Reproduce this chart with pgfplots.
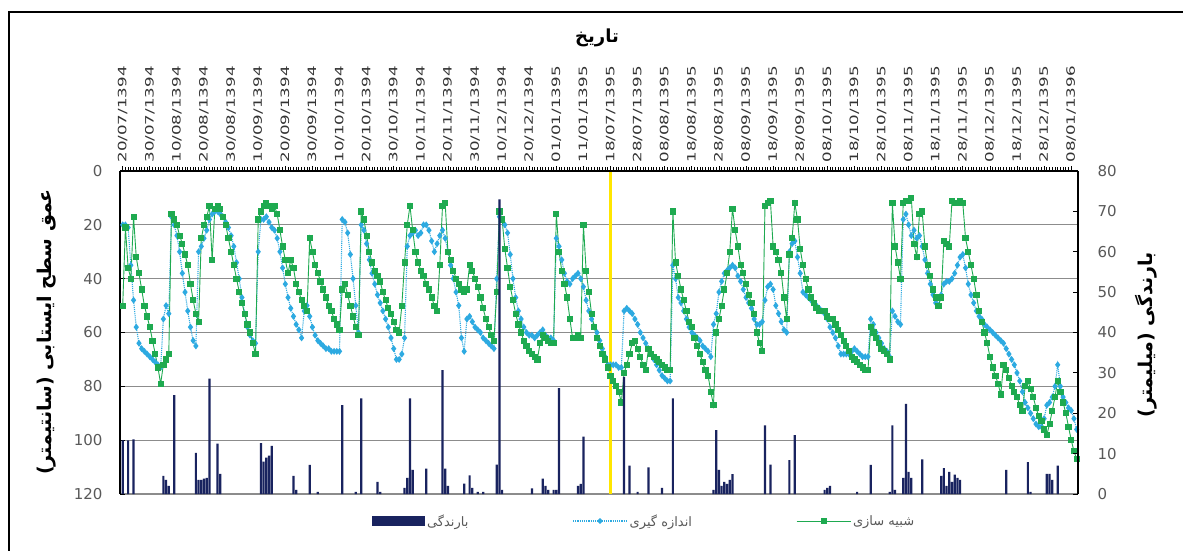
\documentclass[border=0pt]{standalone}
\usepackage{fontspec}
\usepackage{pgfplots}
\pgfplotsset{compat=1.18}
\usepackage{pgfplotstable}
\setmainfont{DejaVu Sans}
\newfontfamily\fa[Script=Arabic]{DejaVu Sans}
\newfontfamily\datefont[FakeStretch=1.45]{DejaVu Sans}
\TeXXeTstate=1
\definecolor{simc}{RGB}{30,170,80}
\definecolor{measc}{RGB}{45,170,225}
\definecolor{rainc}{RGB}{25,35,95}
\definecolor{gridc}{RGB}{140,140,140}
\definecolor{tickc}{RGB}{89,89,89}
\definecolor{yelc}{RGB}{255,230,0}

% water table depth (cm): day index, simulated, measured
\pgfplotstableread{
i sim meas
0 50 20
1 21 20
2 36 21
3 40 35
4 17 48
5 32 58
6 38 64
7 44 66
8 50 67
9 54 68
10 58 69
11 63 70
12 68 71
13 73 72
14 79 73
15 72 55
16 70 50
17 68 53
18 16 17
19 18 20
20 20 24
21 24 30
22 27 38
23 31 45
24 35 52
25 42 58
26 48 63
27 53 65
28 56 30
29 25 28
30 20 25
31 17 22
32 13 18
33 33 16
34 14 15
35 13 15
36 14 16
37 17 17
38 20 19
39 25 21
40 30 24
41 35 28
42 40 34
43 45 40
44 49 47
45 53 53
46 57 58
47 60 61
48 64 63
49 68 64
50 18 30
51 15 18
52 13 18
53 12 17
54 13 19
55 14 21
56 13 22
57 16 25
58 22 30
59 28 36
60 33 42
61 38 47
62 33 51
63 36 54
64 42 57
65 45 59
66 48 62
67 50 52
68 52 50
69 25 54
70 30 58
71 35 61
72 38 63
73 41 64
74 44 65
75 47 66
76 50 66
77 52 67
78 55 67
79 57 67
80 59 67
81 44 18
82 42 19
83 46 23
84 50 31
85 54 40
86 58 50
87 61 60
88 15 20
89 18 22
90 24 27
91 30 33
92 34 38
93 37 42
94 39 46
95 41 49
96 45 52
97 48 55
98 51 58
99 53 62
100 56 66
101 59 70
102 60 70
103 50 68
104 34 62
105 20 28
106 13 24
107 22 23
108 30 22
109 34 24
110 37 23
111 39 20
112 42 20
113 44 22
114 47 26
115 50 30
116 52 27
117 35 24
118 13 22
119 12 25
120 30 30
121 33 35
122 37 40
123 40 45
124 42 50
125 44 62
126 45 67
127 44 55
128 35 54
129 37 56
130 40 58
131 43 59
132 47 60
133 51 62
134 55 63
135 58 64
136 61 65
137 63 66
138 45 40
139 15 17
140 18 18
141 29 20
142 36 23
143 43 31
144 48 40
145 53 47
146 57 52
147 60 55
148 63 58
149 65 60
150 67 61
151 68 61
152 69 62
153 70 61
154 64 60
155 61 59
156 62 61
157 63 62
158 64 62
159 64 63
160 16 25
161 30 28
162 37 33
163 42 38
164 47 41
165 55 42
166 62 40
167 62 39
168 61 38
169 62 40
170 20 43
171 37 48
172 45 52
173 53 55
174 58 58
175 62 60
176 65 63
177 68 66
178 70 69
179 73 72
180 76 72
181 78 72
182 80 72
183 82 73
184 86 73
185 75 52
186 72 51
187 68 52
188 64 53
189 63 55
190 66 57
191 69 60
192 72 62
193 74 64
194 66 66
195 68 68
196 69 70
197 70 72
198 71 74
199 72 76
200 73 77
201 74 78
202 74 78
203 15 35
204 34 40
205 39 47
206 44 49
207 48 52
208 52 55
209 56 58
210 58 60
211 62 61
212 65 62
213 68 63
214 71 65
215 74 66
216 76 67
217 82 69
218 87 57
219 60 53
220 55 45
221 50 41
222 44 38
223 38 37
224 30 36
225 14 35
226 22 36
227 28 39
228 35 41
229 38 44
230 42 47
231 46 49
232 49 51
233 53 55
234 60 57
235 64 57
236 67 56
237 13 48
238 12 43
239 11 42
240 28 44
241 30 50
242 33 53
243 38 56
244 47 59
245 55 60
246 31 30
247 25 27
248 12 26
249 18 32
250 29 38
251 35 45
252 40 46
253 44 47
254 47 48
255 49 49
256 51 50
257 52 51
258 52 52
259 52 53
260 54 55
261 55 58
262 55 60
263 57 62
264 59 65
265 61 68
266 63 68
267 65 68
268 67 68
269 69 67
270 70 66
271 71 67
272 72 68
273 73 69
274 74 69
275 74 69
276 58 55
277 60 57
278 62 60
279 64 62
280 66 64
281 67 66
282 68 67
283 70 69
284 12 52
285 28 54
286 34 56
287 40 57
288 12 18
289 11 16
290 11 20
291 10 24
292 27 22
293 32 25
294 16 24
295 15 28
296 28 33
297 35 38
298 39 42
299 44 46
300 47 49
301 50 50
302 47 46
303 26 42
304 27 41
305 28 41
306 11 40
307 12 38
308 12 35
309 11 32
310 12 31
311 25 36
312 30 42
313 35 46
314 40 49
315 46 52
316 52 54
317 56 55
318 60 57
319 64 58
320 69 59
321 73 60
322 76 61
323 79 62
324 83 63
325 72 64
326 74 66
327 77 68
328 80 70
329 82 72
330 84 75
331 87 78
332 89 82
333 80 86
334 78 88
335 81 90
336 84 92
337 88 94
338 91 95
339 93 95
340 96 92
341 98 87
342 94 86
343 89 84
344 84 80
345 78 72
346 82 80
347 86 84
348 90 86
349 95 88
350 100 89
351 104 92
352 107 96
}\lvl

% rainfall (mm) on rainy days
\pgfplotstableread{
i r
0 13.3
2 13.3
4 13.5
15 4.5
16 3.5
17 2
19 24.5
27 10.2
28 3.5
29 3.5
30 3.8
31 4
32 28.6
35 12.5
36 5
51 12.6
52 8
53 9
54 9.5
55 11.9
63 4.5
64 1
69 7.2
72 0.5
81 22
86 0.5
88 23.7
94 3
95 0.5
104 1.5
105 4
106 23.7
107 6
112 6.3
118 30.7
119 6.3
120 2
126 2.6
128 4.6
129 1.5
131 0.5
133 0.5
138 7.3
139 73
140 1
151 1.4
155 3.8
156 2
157 1
159 1
160 1
161 26.2
168 2
169 2.5
170 14.2
185 29
187 7
190 0.5
194 6.6
199 1.5
203 23.7
218 1
219 15.8
220 6
221 2
222 3
223 2.5
224 3.5
225 4.9
237 17
239 7.3
246 8.4
248 14.6
259 1
260 1.5
261 2
271 0.5
276 7.2
283 0.5
284 17
285 1
288 4
289 22.3
290 5.5
291 4
295 8.6
302 4.5
303 6.4
304 2
305 5.5
306 3
307 4.8
308 4
309 3.5
326 6
334 7.9
335 0.5
341 5
342 5
343 3.5
345 7
}\rain

\pgfplotsset{
  meas/.style={color=measc, densely dotted, line width=1.1pt, mark=diamond*,
    mark size=2.6pt, mark options={solid, fill=measc, draw=measc}},
  sim/.style={color=simc, line width=0.9pt, mark=square*, mark size=2.6pt,
    mark options={fill=simc, draw=simc}},
}

\begin{document}
\begin{tikzpicture}
\useasboundingbox (0,0) rectangle (1183pt,550pt);
\fill[white] (0,0) rectangle (1183pt,550pt);
\draw[line width=2.5pt] (9pt,-2pt) -- (9pt,538pt) -- (1186pt,538pt);

% depth axis (left, reversed)
\begin{axis}[
  at={(120pt,56pt)}, anchor=south west, scale only axis,
  width=958pt, height=323pt,
  xmin=-1, xmax=352.5, ymin=0, ymax=120, y dir=reverse,
  axis x line=none, axis y line*=left,
  axis line style={-, black, line width=1.5pt},
  xtick=\empty, ytick={0,20,...,120}, ytick align=inside,
  major tick length=5pt, tick style={black, line width=1pt},
  ymajorgrids, grid style={gridc, line width=1.2pt},
  /pgf/number format/assume math mode=true,
  yticklabel style={font=\fontsize{15}{16}\selectfont, text=tickc, xshift=-14pt},
]
\addplot[meas] table[x=i, y=meas] {\lvl};
\addplot[sim] table[x=i, y=sim] {\lvl};
\addplot[yelc, line width=3.5pt] coordinates {(180,0) (180,120)};
\end{axis}

% rainfall axis (right) with the date axis on top
\begin{axis}[
  at={(120pt,56pt)}, anchor=south west, scale only axis,
  width=958pt, height=323pt,
  xmin=-1, xmax=352.5, ymin=0, ymax=80,
  axis x line*=top, axis y line*=right,
  axis line style={-, black, line width=1.5pt},
  xtick={0,10,...,350}, minor x tick num=9, xtick align=outside,
  major tick length=5pt, minor tick length=4pt,
  tick style={black, line width=0.8pt},
  xticklabels={20/07/1394,30/07/1394,10/08/1394,20/08/1394,30/08/1394,
    10/09/1394,20/09/1394,30/09/1394,10/10/1394,20/10/1394,30/10/1394,
    10/11/1394,20/11/1394,30/11/1394,10/12/1394,20/12/1394,01/01/1395,
    11/01/1395,18/07/1395,28/07/1395,08/08/1395,18/08/1395,28/08/1395,
    08/09/1395,18/09/1395,28/09/1395,08/10/1395,18/10/1395,28/10/1395,
    08/11/1395,18/11/1395,28/11/1395,08/12/1395,18/12/1395,28/12/1395,
    08/01/1396},
  xticklabel style={rotate=90, anchor=west,
    font=\datefont\fontsize{11.5}{12}\selectfont, text=black!80},
  ytick={0,10,...,80}, ytick align=inside,
  /pgf/number format/assume math mode=true,
  yticklabel style={font=\fontsize{15}{16}\selectfont, text=tickc, xshift=16pt},
  legend columns=3,
  legend style={draw=none, fill=none, inner sep=0pt,
    at={(axis description cs:0.263,-0.0836)}, anchor=west,
    font=\fa\fontsize{13}{14}\selectfont, text=tickc,
    /tikz/every even column/.append style={column sep=102pt}},
]
\addplot[ybar, bar width=2.2pt, fill=rainc, draw=none,
  legend image code/.code={\fill[rainc] (0pt,-5pt) rectangle (53pt,5pt);}]
  table[x=i, y=r] {\rain};
\addlegendentry{\beginR بارندگی\endR}
\addlegendimage{legend image code/.code={
  \draw[measc, densely dotted, line width=1.2pt] (0pt,0pt) -- (54pt,0pt);
  \fill[measc] (27pt,2.6pt) -- (29.6pt,0pt) -- (27pt,-2.6pt) -- (24.4pt,0pt) -- cycle;}}
\addlegendentry{\beginR اندازه گیری\endR}
\addlegendimage{legend image code/.code={
  \draw[simc, line width=1pt] (0pt,0pt) -- (54pt,0pt);
  \fill[simc] (24.5pt,-2.5pt) rectangle (29.5pt,2.5pt);}}
\addlegendentry{\beginR شبیه سازی\endR}
\end{axis}

\node[font=\fa\bfseries\fontsize{18}{20}\selectfont] at (597pt,512pt)
  {\beginR تاریخ\endR};
\node[rotate=90, font=\fa\bfseries\fontsize{19}{21}\selectfont] at (47pt,218pt)
  {\beginR عمق سطح ایستابی (سانتیمتر)\endR};
\node[rotate=90, font=\fa\bfseries\fontsize{19}{21}\selectfont] at (1146pt,215pt)
  {\beginR بارندگی (میلیمتر)\endR};
\end{tikzpicture}
\end{document}
